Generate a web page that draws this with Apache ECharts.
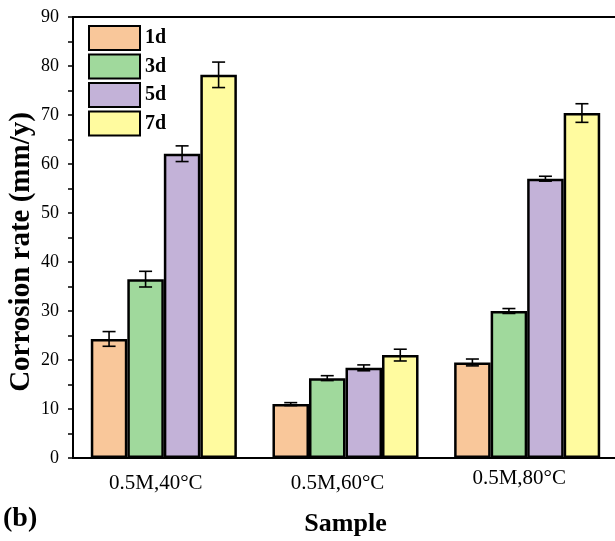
<!DOCTYPE html>
<html>
<head>
<meta charset="utf-8">
<script src="https://cdn.jsdelivr.net/npm/echarts@6/dist/echarts.min.js"></script>
<style>
  html, body { margin: 0; padding: 0; background: #fff; }
  #chart { width: 615px; height: 541px; }
</style>
</head>
<body>
<div id="chart"></div>
<script>
// Corrosion rate by sample condition and immersion time
const categories = ['0.5M,40°C', '0.5M,60°C', '0.5M,80°C'];
const days = ['1d', '3d', '5d', '7d'];
const rate1d = [24.3, 11.0, 19.5];
const rate3d = [36.5, 16.3, 30.0];
const rate5d = [62.1, 18.4, 57.0];
const rate7d = [78.2, 21.0, 70.4];
const err1d = [1.5, 0.3, 0.7];
const err3d = [1.6, 0.5, 0.5];
const err5d = [1.6, 0.6, 0.5];
const err7d = [2.6, 1.2, 1.9];
const yTicks = [0, 10, 20, 30, 40, 50, 60, 70, 80, 90];

const rates = [rate1d, rate3d, rate5d, rate7d];
const errs = [err1d, err3d, err5d, err7d];
const colors = ['#F9C79A', '#A0D99C', '#C3B2D8', '#FFFB9F'];
const FONT = '"Liberation Serif", "Times New Roman", serif';
const CAT_GAP = 0.196;

const chart = echarts.init(document.getElementById('chart'), null, { renderer: 'canvas' });

const barSeries = days.map((d, i) => ({
  name: d,
  type: 'bar',
  data: rates[i],
  barGap: '0%',
  barCategoryGap: (CAT_GAP * 100) + '%',
  itemStyle: { color: colors[i], borderColor: '#000', borderWidth: 2.5 },
  emphasis: { disabled: true },
  z: 2
}));

// error bar data: [categoryIndex, low, high, seriesIndex]
const errData = [];
days.forEach((d, i) => {
  categories.forEach((c, j) => {
    errData.push([j, rates[i][j] - errs[i][j], rates[i][j] + errs[i][j], i]);
  });
});

const errSeries = {
  type: 'custom',
  name: 'error',
  data: errData,
  encode: { x: 0, y: [1, 2] },
  z: 5,
  silent: true,
  renderItem: function (params, api) {
    const cat = api.value(0);
    const si = api.value(3);
    const band = api.size([1, 0])[0];
    const bw = band * (1 - CAT_GAP) / days.length;
    const lo = api.coord([cat, api.value(1)]);
    const hi = api.coord([cat, api.value(2)]);
    const x = lo[0] + (si - (days.length - 1) / 2) * bw;
    const hw = 6.5;
    const style = { stroke: '#000', lineWidth: 1.6, fill: null };
    return {
      type: 'group',
      children: [
        { type: 'line', shape: { x1: x, y1: lo[1], x2: x, y2: hi[1] }, style },
        { type: 'line', shape: { x1: x - hw, y1: lo[1], x2: x + hw, y2: lo[1] }, style },
        { type: 'line', shape: { x1: x - hw, y1: hi[1], x2: x + hw, y2: hi[1] }, style }
      ]
    };
  }
};

chart.setOption({
  animation: false,
  backgroundColor: '#fff',
  textStyle: { fontFamily: FONT, color: '#000' },
  grid: {
    left: 73, top: 17, width: 545, bottom: 83,
    show: true, borderColor: '#000', borderWidth: 2,
    outerBoundsMode: 'none'
  },
  legend: {
    data: days,
    orient: 'vertical',
    left: 83, top: 20,
    itemWidth: 51, itemHeight: 24, itemGap: 2.5,
    icon: 'rect',
    textStyle: { fontFamily: FONT, fontSize: 20, fontWeight: 'bold', color: '#000', lineHeight: 24 }
  },
  xAxis: {
    type: 'category',
    data: categories,
    name: 'Sample',
    nameLocation: 'middle',
    nameGap: 53,
    nameMoveOverlap: false,
    nameTextStyle: { fontFamily: FONT, fontSize: 26, fontWeight: 'bold', color: '#000' },
    axisLine: { lineStyle: { color: '#000', width: 2 } },
    axisTick: { show: false },
    axisLabel: {
      fontFamily: FONT, fontSize: 21, color: '#000',
      margin: 25, verticalAlign: 'middle',
      formatter: function (v, i) { return i === 2 ? '{r|' + v + '}' : '{n|' + v + '}'; },
      rich: {
        n: { fontFamily: FONT, fontSize: 21, color: '#000', padding: [0, 16, 0, 0] },
        r: { fontFamily: FONT, fontSize: 21, color: '#000', padding: [0, 16, 10, 0] }
      }
    },
    splitLine: { show: false }
  },
  yAxis: {
    type: 'value',
    min: yTicks[0], max: yTicks[yTicks.length - 1], interval: 10,
    name: 'Corrosion rate (mm/y)',
    nameLocation: 'middle',
    nameRotate: 90,
    nameGap: 37,
    nameMoveOverlap: false,
    nameTextStyle: { fontFamily: FONT, fontSize: 29, fontWeight: 'bold', color: '#000', padding: [0, 29, 0, 0] },
    axisLine: { show: true, lineStyle: { color: '#000', width: 2 } },
    axisTick: { show: true, length: 5, lineStyle: { color: '#000', width: 1.5 } },
    minorTick: { show: true, splitNumber: 2, length: 5, lineStyle: { color: '#000', width: 1.5 } },
    axisLabel: { fontFamily: FONT, fontSize: 18, color: '#000', margin: 14 },
    splitLine: { show: false }
  },
  graphic: [
    { type: 'text', left: 3, top: 505, style: { text: '(b)', font: 'bold 28px ' + FONT, fill: '#000' } }
  ],
  series: barSeries.concat([errSeries])
});
</script>
</body>
</html>
